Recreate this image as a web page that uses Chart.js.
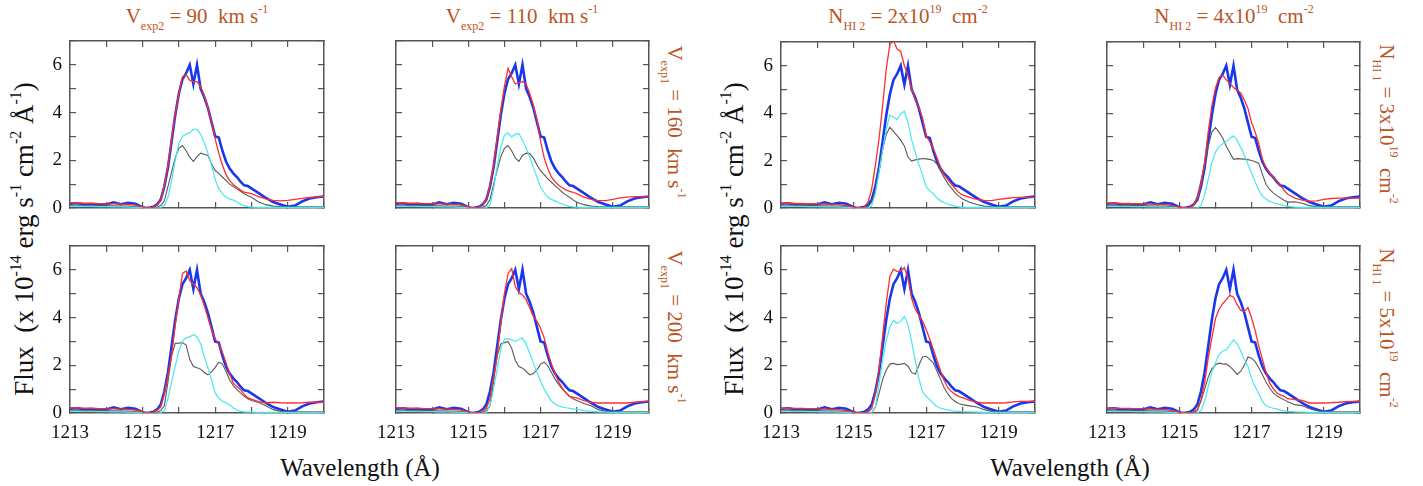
<!DOCTYPE html>
<html>
<head>
<meta charset="utf-8">
<script src="https://cdn.jsdelivr.net/npm/chart.js@4.4.1/dist/chart.umd.min.js"></script>
<style>
  body { margin: 0; background: #fff; width: 1423px; height: 486px; overflow: hidden; position: relative;
         font-family: "Liberation Serif", "DejaVu Serif", "Times New Roman", Times, serif; }
  canvas { position: absolute; }
  .lbl { position: absolute; white-space: nowrap; line-height: 1; }
  .orange { color: #b9561f; font-size: 21px; }
  .ytitle { font-size: 27px; color: #111; }
  .xtitle { font-size: 25px; color: #111; }
  .lbl sub { font-size: 12px; vertical-align: -7px; }
  .lbl sup { font-size: 12px; vertical-align: 10px; }
  .ytitle sup { font-size: 16px; vertical-align: 12px; }
</style>
</head>
<body>
<div class="lbl orange" style="left:197px;top:3px;transform:translateX(-50%)">V<sub>exp2</sub> = 90&nbsp; km s<sup>-1</sup></div>
<div class="lbl orange" style="left:522px;top:3px;transform:translateX(-50%)">V<sub>exp2</sub> = 110&nbsp; km s<sup>-1</sup></div>
<div class="lbl orange" style="left:908px;top:3px;transform:translateX(-50%)">N<sub>HI 2</sub> = 2x10<sup>19</sup>&nbsp; cm<sup>-2</sup></div>
<div class="lbl orange" style="left:1234px;top:3px;transform:translateX(-50%)">N<sub>HI 2</sub> = 4x10<sup>19</sup>&nbsp; cm<sup>-2</sup></div>

<div class="lbl orange" style="left:673px;top:122px;transform:translate(-50%,-50%) rotate(90deg)">V<sub>exp1</sub> = 160&nbsp; km s<sup>-1</sup></div>
<div class="lbl orange" style="left:673px;top:327px;transform:translate(-50%,-50%) rotate(90deg)">V<sub>exp1</sub> = 200&nbsp; km s<sup>-1</sup></div>
<div class="lbl orange" style="left:1385px;top:124px;transform:translate(-50%,-50%) rotate(90deg)">N<sub>HI 1</sub> = 3x10<sup>19</sup>&nbsp; cm<sup>-2</sup></div>
<div class="lbl orange" style="left:1385px;top:328px;transform:translate(-50%,-50%) rotate(90deg)">N<sub>HI 1</sub> = 5x10<sup>19</sup>&nbsp; cm<sup>-2</sup></div>

<div class="lbl ytitle" style="left:23px;top:239px;transform:translate(-50%,-50%) rotate(-90deg)">Flux&nbsp; (x 10<sup>-14</sup> erg s<sup>-1</sup> cm<sup>-2</sup> Å<sup>-1</sup>)</div>
<div class="lbl ytitle" style="left:733px;top:239px;transform:translate(-50%,-50%) rotate(-90deg)">Flux&nbsp; (x 10<sup>-14</sup> erg s<sup>-1</sup> cm<sup>-2</sup> Å<sup>-1</sup>)</div>

<div class="lbl xtitle" style="left:360px;top:455px;transform:translateX(-50%)">Wavelength (Å)</div>
<div class="lbl xtitle" style="left:1070px;top:455px;transform:translateX(-50%)">Wavelength (Å)</div>

<script>
// wavelength grid (Å)
const wavelength = [1213.0,1213.2,1213.4,1213.6,1213.8,1214.0,1214.2,1214.4,1214.6,1214.8,1215.0,
  1215.1,1215.2,1215.3,1215.4,1215.5,1215.6,1215.7,1215.8,1215.9,1216.0,
  1216.1,1216.2,1216.3,1216.4,1216.5,1216.6,1216.7,1216.8,1216.9,1217.0,
  1217.1,1217.2,1217.3,1217.4,1217.5,1217.6,1217.7,1217.8,1217.9,1218.0,
  1218.2,1218.4,1218.6,1218.8,1219.0,1219.2,1219.4,1219.6,1219.8,1220.0];

const xTicks = [1213, 1215, 1217, 1219];
const yTicks = [0, 2, 4, 6];

// observed spectrum (blue), same in every panel
const observed = [0.18,0.2,0.15,0.17,0.14,0.15,0.24,0.16,0.22,0.18,0.03,
  0.0,0.02,0.05,0.15,0.35,0.9,1.7,2.8,3.9,4.8,
  5.4,5.65,6.0,5.2,6.0,5.0,4.65,4.2,3.6,3.0,
  2.95,2.4,1.95,1.65,1.45,1.3,1.1,0.95,0.92,0.82,
  0.62,0.42,0.25,0.15,0.05,0.1,0.28,0.4,0.45,0.48];

// Vexp2 = 90, Vexp1 = 160
const red_v90_160 = [0.22,0.21,0.2,0.2,0.18,0.17,0.17,0.16,0.15,0.12,0.05,
  0.0,0.0,0.03,0.12,0.35,0.95,1.8,2.9,3.95,4.8,
  5.5,5.6,5.35,5.3,5.3,5.1,4.7,4.2,3.6,2.9,
  2.3,1.8,1.4,1.15,0.98,0.87,0.75,0.66,0.63,0.6,
  0.48,0.38,0.32,0.3,0.32,0.36,0.4,0.44,0.46,0.48];
const cyan_v90_160 = [0.08,0.08,0.07,0.07,0.06,0.06,0.05,0.05,0.04,0.03,0.02,
  0.01,0.0,0.0,0.0,0.02,0.1,0.45,1.15,2.0,2.7,
  3.0,3.1,3.15,3.3,3.3,3.1,2.75,2.3,1.8,1.2,
  0.8,0.6,0.45,0.38,0.33,0.25,0.17,0.1,0.06,0.04,
  0.03,0.03,0.03,0.03,0.03,0.03,0.03,0.03,0.03,0.03];
const grey_v90_160 = [0.1,0.1,0.1,0.1,0.1,0.09,0.09,0.08,0.08,0.06,0.03,
  0.02,0.02,0.02,0.03,0.1,0.3,0.9,1.5,2.1,2.5,
  2.62,2.4,2.13,1.95,2.15,2.3,2.25,2.2,1.85,1.57,
  1.45,1.3,1.15,1.0,0.9,0.8,0.7,0.6,0.52,0.45,
  0.25,0.14,0.08,0.06,0.05,0.05,0.05,0.05,0.05,0.05];

// Vexp2 = 110, Vexp1 = 160
const red_v110_160 = [0.22,0.21,0.2,0.2,0.18,0.17,0.17,0.16,0.15,0.12,0.05,
  0.0,0.0,0.03,0.12,0.35,0.95,1.8,2.95,4.1,5.1,
  5.85,5.5,5.2,5.25,5.3,5.2,4.8,4.3,3.7,2.8,
  2.1,1.65,1.3,1.1,0.95,0.85,0.76,0.7,0.66,0.6,
  0.46,0.36,0.31,0.31,0.36,0.42,0.46,0.48,0.48,0.48];
const cyan_v110_160 = [0.08,0.08,0.07,0.07,0.06,0.06,0.05,0.05,0.04,0.03,0.02,
  0.01,0.0,0.0,0.0,0.02,0.12,0.8,1.75,2.55,3.05,
  3.15,2.98,3.1,3.12,2.84,2.5,2.13,1.7,1.3,0.87,
  0.65,0.45,0.36,0.3,0.23,0.17,0.11,0.07,0.05,0.04,
  0.03,0.03,0.03,0.03,0.03,0.03,0.03,0.03,0.03,0.03];
const grey_v110_160 = [0.1,0.1,0.1,0.1,0.1,0.09,0.09,0.08,0.08,0.06,0.03,
  0.02,0.02,0.02,0.03,0.1,0.35,1.0,1.6,2.15,2.5,
  2.62,2.4,2.1,1.95,2.2,2.3,2.28,2.1,1.8,1.57,
  1.4,1.22,1.08,0.94,0.8,0.66,0.55,0.45,0.34,0.24,
  0.14,0.08,0.06,0.05,0.05,0.05,0.05,0.05,0.05,0.05];

// Vexp2 = 90, Vexp1 = 200
const red_v90_200 = [0.22,0.21,0.2,0.2,0.18,0.17,0.17,0.16,0.15,0.12,0.05,
  0.0,0.0,0.03,0.12,0.25,0.8,1.55,2.4,3.7,4.8,
  5.85,5.95,5.55,5.4,5.25,4.95,4.5,4.0,3.5,3.1,
  2.9,2.55,2.1,1.65,1.25,1.1,0.98,0.78,0.63,0.58,
  0.48,0.42,0.45,0.43,0.42,0.42,0.43,0.45,0.45,0.45];
const cyan_v90_200 = [0.08,0.08,0.07,0.07,0.06,0.06,0.05,0.05,0.04,0.03,0.02,
  0.01,0.0,0.0,0.0,0.02,0.1,0.6,1.3,1.95,2.6,
  3.0,3.15,3.2,3.28,3.2,2.9,2.37,1.9,1.4,0.84,
  0.62,0.5,0.43,0.35,0.21,0.13,0.07,0.05,0.04,0.04,
  0.03,0.03,0.03,0.03,0.03,0.03,0.03,0.03,0.03,0.03];
const grey_v90_200 = [0.1,0.1,0.1,0.1,0.1,0.09,0.09,0.08,0.08,0.06,0.03,
  0.02,0.02,0.02,0.03,0.1,0.3,1.3,2.4,2.92,2.93,
  2.95,2.85,2.25,1.95,1.9,1.84,1.7,1.6,1.72,1.9,
  2.13,2.05,1.75,1.38,1.15,0.98,0.84,0.7,0.6,0.52,
  0.44,0.3,0.14,0.07,0.05,0.05,0.05,0.05,0.05,0.05];

// Vexp2 = 110, Vexp1 = 200
const red_v110_200 = [0.22,0.21,0.2,0.2,0.18,0.17,0.17,0.16,0.15,0.12,0.05,
  0.0,0.0,0.03,0.1,0.2,0.6,1.5,2.4,3.8,5.0,
  5.85,6.05,5.3,5.05,4.95,4.75,4.4,4.05,3.85,3.55,
  3.15,2.55,2.05,1.65,1.3,1.05,0.85,0.7,0.66,0.63,
  0.52,0.45,0.42,0.42,0.42,0.42,0.42,0.45,0.48,0.49];
const cyan_v110_200 = [0.08,0.08,0.07,0.07,0.06,0.06,0.05,0.05,0.04,0.03,0.02,
  0.01,0.0,0.0,0.0,0.02,0.3,1.0,1.85,2.7,3.1,
  3.12,3.07,3.0,3.08,3.14,2.9,2.5,2.1,1.7,1.35,
  1.0,0.75,0.5,0.38,0.3,0.25,0.22,0.2,0.17,0.15,
  0.1,0.07,0.05,0.04,0.03,0.03,0.03,0.03,0.03,0.03];
const grey_v110_200 = [0.1,0.1,0.1,0.1,0.1,0.09,0.09,0.08,0.08,0.06,0.03,
  0.02,0.02,0.02,0.03,0.1,0.3,1.3,2.4,2.9,2.95,
  3.0,2.72,2.2,1.95,1.88,1.75,1.6,1.65,1.81,2.05,
  2.13,1.98,1.7,1.42,1.2,1.0,0.85,0.7,0.6,0.52,
  0.4,0.3,0.14,0.07,0.05,0.05,0.05,0.05,0.05,0.05];

// NHI2 = 2e19, NHI1 = 3e19
const red_n2_3 = [0.2,0.2,0.19,0.18,0.18,0.17,0.16,0.15,0.14,0.1,0.04,
  0.0,0.0,0.05,0.25,0.8,1.8,2.9,4.3,5.85,6.9,
  7.05,6.7,6.6,6.0,5.6,5.0,4.55,4.25,3.8,3.05,
  2.8,2.5,2.12,1.7,1.4,1.2,1.0,0.82,0.65,0.55,
  0.45,0.36,0.32,0.31,0.36,0.4,0.44,0.45,0.45,0.45];
const cyan_n2_3 = [0.08,0.08,0.07,0.07,0.06,0.06,0.05,0.05,0.04,0.03,0.02,
  0.01,0.0,0.0,0.0,0.1,0.6,1.5,2.45,3.3,3.92,
  3.84,3.73,3.97,4.08,3.6,2.87,2.35,1.85,1.4,0.9,
  0.72,0.6,0.42,0.3,0.22,0.16,0.12,0.08,0.05,0.03,
  0.03,0.03,0.03,0.03,0.03,0.03,0.03,0.03,0.03,0.03];
const grey_n2_3 = [0.1,0.1,0.1,0.1,0.1,0.09,0.09,0.08,0.08,0.06,0.03,
  0.02,0.02,0.02,0.05,0.25,0.75,1.55,2.45,3.1,3.41,
  3.23,3.05,2.85,2.62,2.15,1.98,2.03,2.06,2.09,2.07,
  2.05,2.0,1.85,1.55,1.28,1.03,0.84,0.64,0.5,0.38,
  0.24,0.15,0.08,0.06,0.05,0.05,0.05,0.05,0.05,0.05];

// NHI2 = 4e19, NHI1 = 3e19
const red_n4_3 = [0.2,0.2,0.19,0.18,0.18,0.17,0.16,0.15,0.14,0.1,0.04,
  0.0,0.0,0.03,0.12,0.4,1.0,1.9,3.2,4.3,5.05,
  5.5,5.6,5.4,5.25,5.08,4.97,4.85,4.55,4.2,3.6,
  3.2,2.7,2.05,1.7,1.48,1.3,1.13,0.95,0.75,0.58,
  0.42,0.33,0.29,0.3,0.36,0.4,0.42,0.42,0.42,0.42];
const cyan_n4_3 = [0.08,0.08,0.07,0.07,0.06,0.06,0.05,0.05,0.04,0.03,0.02,
  0.01,0.0,0.0,0.0,0.0,0.1,0.55,1.2,1.9,2.35,
  2.58,2.7,2.8,2.93,3.04,2.85,2.55,2.25,1.85,1.48,
  1.1,0.75,0.5,0.38,0.28,0.22,0.18,0.14,0.1,0.07,
  0.04,0.03,0.03,0.03,0.03,0.03,0.03,0.03,0.03,0.03];
const grey_n4_3 = [0.1,0.1,0.1,0.1,0.1,0.09,0.09,0.08,0.08,0.06,0.03,
  0.02,0.02,0.03,0.15,0.5,1.15,1.85,2.6,3.2,3.39,
  3.2,2.95,2.6,2.33,2.05,2.08,2.07,2.06,2.04,2.0,
  1.95,1.88,1.42,1.0,0.78,0.64,0.52,0.42,0.33,0.25,
  0.26,0.2,0.1,0.06,0.05,0.05,0.05,0.05,0.05,0.05];

// NHI2 = 2e19, NHI1 = 5e19
const red_n2_5 = [0.2,0.2,0.19,0.18,0.18,0.17,0.16,0.15,0.14,0.1,0.04,
  0.0,0.0,0.02,0.05,0.18,0.8,1.8,3.2,4.6,5.72,
  6.03,5.93,5.95,6.1,5.65,4.8,4.35,4.1,3.85,3.5,
  3.1,2.65,2.2,1.75,1.35,1.05,0.9,0.78,0.7,0.64,
  0.53,0.45,0.42,0.42,0.42,0.43,0.47,0.49,0.49,0.49];
const cyan_n2_5 = [0.08,0.08,0.07,0.07,0.06,0.06,0.05,0.05,0.04,0.03,0.02,
  0.01,0.0,0.0,0.0,0.02,0.25,1.2,2.2,3.05,3.6,
  3.88,3.76,3.85,4.04,3.7,3.0,2.2,1.45,0.9,0.7,
  0.56,0.4,0.27,0.2,0.16,0.13,0.1,0.08,0.07,0.06,
  0.05,0.04,0.03,0.03,0.03,0.03,0.03,0.03,0.03,0.03];
const grey_n2_5 = [0.1,0.1,0.1,0.1,0.1,0.09,0.09,0.08,0.08,0.06,0.03,
  0.02,0.02,0.02,0.02,0.02,0.25,0.8,1.4,1.8,2.05,
  2.08,2.03,2.05,2.08,1.96,1.7,1.62,2.0,2.35,2.38,
  2.25,2.09,1.75,1.4,1.05,0.8,0.6,0.48,0.4,0.35,
  0.3,0.25,0.14,0.07,0.05,0.05,0.05,0.05,0.05,0.05];

// NHI2 = 4e19, NHI1 = 5e19
const red_n4_5 = [0.2,0.2,0.19,0.18,0.18,0.17,0.16,0.15,0.14,0.1,0.04,
  0.0,0.0,0.02,0.05,0.15,0.55,1.25,2.3,3.15,3.95,
  4.35,4.58,4.75,4.93,4.85,4.55,4.3,4.25,4.42,3.98,
  3.45,2.8,2.25,1.7,1.26,1.02,0.84,0.76,0.7,0.6,
  0.56,0.53,0.42,0.42,0.42,0.43,0.45,0.48,0.49,0.49];
const cyan_n4_5 = [0.08,0.08,0.07,0.07,0.06,0.06,0.05,0.05,0.04,0.03,0.02,
  0.01,0.0,0.0,0.0,0.0,0.1,0.5,1.1,1.7,2.1,
  2.45,2.6,2.65,2.85,3.07,2.9,2.6,2.25,1.95,1.45,
  1.1,0.8,0.5,0.3,0.24,0.2,0.17,0.12,0.09,0.07,
  0.05,0.04,0.03,0.03,0.03,0.03,0.03,0.03,0.03,0.03];
const grey_n4_5 = [0.1,0.1,0.1,0.1,0.1,0.09,0.09,0.08,0.08,0.06,0.03,
  0.02,0.02,0.02,0.03,0.1,0.5,0.98,1.5,1.85,2.02,
  2.09,2.06,2.05,1.95,1.8,1.62,1.75,2.0,2.35,2.3,
  2.15,1.9,1.6,1.3,1.05,0.84,0.72,0.63,0.55,0.47,
  0.35,0.31,0.18,0.1,0.06,0.05,0.05,0.05,0.05,0.05];

// panel frames on the page (left, top, width, height of the plot box)
const panels = [
  { box: [70, 41, 254, 167],   red: red_v90_160,  cyan: cyan_v90_160,  grey: grey_v90_160,  showX: false, showY: true },
  { box: [396, 41, 253, 167],  red: red_v110_160, cyan: cyan_v110_160, grey: grey_v110_160, showX: false, showY: false },
  { box: [70, 246, 254, 167],  red: red_v90_200,  cyan: cyan_v90_200,  grey: grey_v90_200,  showX: true,  showY: true },
  { box: [396, 246, 253, 167], red: red_v110_200, cyan: cyan_v110_200, grey: grey_v110_200, showX: true,  showY: false },
  { box: [781, 42, 254, 166],  red: red_n2_3,     cyan: cyan_n2_3,     grey: grey_n2_3,     showX: false, showY: true },
  { box: [1107, 42, 253, 166], red: red_n4_3,     cyan: cyan_n4_3,     grey: grey_n4_3,     showX: false, showY: false },
  { box: [781, 246, 254, 167], red: red_n2_5,     cyan: cyan_n2_5,     grey: grey_n2_5,     showX: true,  showY: true },
  { box: [1107, 246, 253, 167],red: red_n4_5,     cyan: cyan_n4_5,     grey: grey_n4_5,     showX: true,  showY: false }
];

const PAD_L = 45, PAD_T = 6, PAD_R = 6, PAD_B = 36;
const frameColor = '#555';
const tickFont = { family: '"Liberation Serif", "DejaVu Serif", "Times New Roman", Times, serif', size: 19 };

function toPoints(vals) {
  return wavelength.map((w, i) => ({ x: w, y: vals[i] }));
}

function frameAxis(position, min, max, labels, show) {
  const horizontal = position === 'top' || position === 'bottom';
  return {
    type: 'linear', position, min, max,
    ticks: {
      stepSize: 1, autoSkip: false, maxRotation: 0, minRotation: 0,
      display: position === 'bottom' || position === 'left',
      font: tickFont, color: '#111',
      padding: horizontal ? 15 : 14,
      callback: v => (show && labels.includes(v)) ? String(v) : ''
    },
    grid: { drawOnChartArea: false, drawTicks: true, tickLength: -6, color: frameColor, lineWidth: 1.2 },
    border: { display: true, color: frameColor, width: 1.5 },
    afterFit: s => {
      if (horizontal) s.height = position === 'bottom' ? PAD_B : 0;
      else s.width = position === 'left' ? PAD_L : 0;
      s.paddingLeft = s.paddingRight = s.paddingTop = s.paddingBottom = 0;
    }
  };
}

panels.forEach(p => {
  const [left, top, w, h] = p.box;
  const cv = document.createElement('canvas');
  cv.width = w + PAD_L + PAD_R;
  cv.height = h + PAD_T + PAD_B;
  cv.style.left = (left - PAD_L) + 'px';
  cv.style.top = (top - PAD_T) + 'px';
  document.body.appendChild(cv);

  new Chart(cv, {
    type: 'line',
    data: {
      datasets: [
        { data: toPoints(p.red),  borderColor: 'rgb(255,45,45)',  borderWidth: 1.3 },
        { data: toPoints(p.cyan), borderColor: 'rgb(70,232,240)', borderWidth: 1.2 },
        { data: toPoints(p.grey), borderColor: 'rgb(90,90,90)',   borderWidth: 1.1 },
        { data: toPoints(observed), borderColor: 'rgb(25,55,235)', borderWidth: 2.6 }
      ]
    },
    options: {
      responsive: false,
      animation: false,
      devicePixelRatio: 1,
      layout: { padding: { left: 0, top: PAD_T, right: PAD_R, bottom: 0 } },
      elements: { point: { radius: 0 }, line: { tension: 0, fill: false } },
      plugins: { legend: { display: false }, tooltip: { enabled: false } },
      scales: {
        x: frameAxis('bottom', 1213, 1220, xTicks, p.showX),
        x2: frameAxis('top', 1213, 1220, xTicks, false),
        y: frameAxis('left', 0, 7, yTicks, p.showY),
        y2: frameAxis('right', 0, 7, yTicks, false)
      }
    }
  });
});
</script>
</body>
</html>
